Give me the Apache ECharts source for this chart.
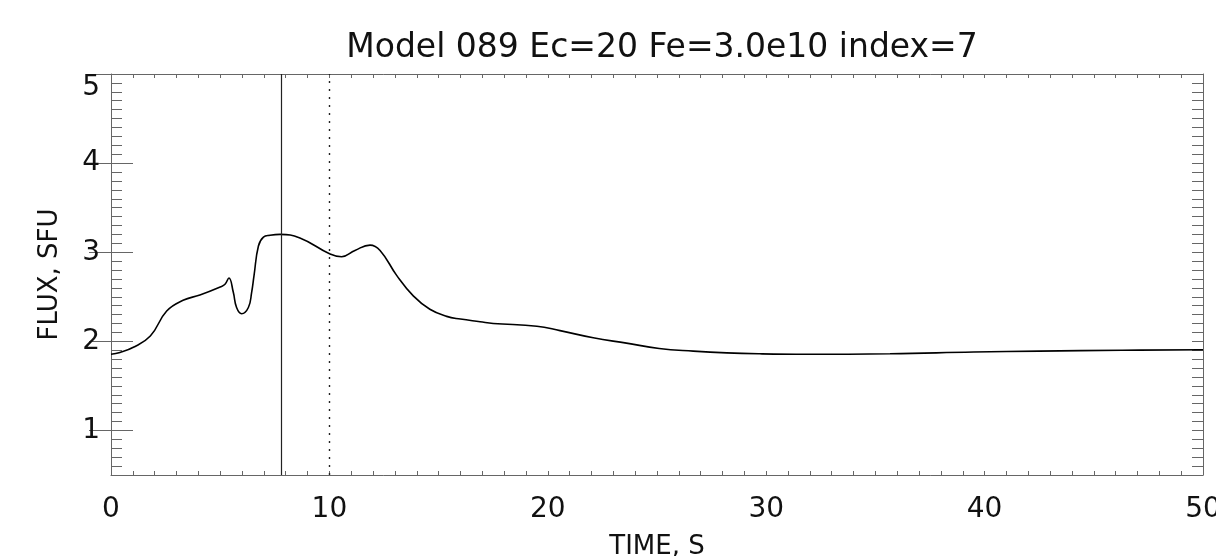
<!DOCTYPE html>
<html>
<head>
<meta charset="utf-8">
<script src="https://cdn.jsdelivr.net/npm/echarts@6/dist/echarts.min.js"></script>
<style>html,body{margin:0;padding:0;background:#fff}#chart{width:1216px;height:556px}</style>
</head>
<body>
<div id="chart"></div>
<script>
const titleText = 'Model 089 Ec=20 Fe=3.0e10 index=7';
const xName = 'TIME, S';
const yName = 'FLUX, SFU';

// light curve
const timeS = [0, 0.41, 1.0, 1.8, 2.55, 3.3, 4.07, 5.0, 5.22, 5.4, 5.6, 5.75, 5.98, 6.29, 6.44, 6.55, 6.75, 6.98, 7.28, 7.74,
  8.65, 10.03, 10.56, 11.17, 11.86, 12.32, 13.08, 13.84, 14.6, 15.37, 16.0, 16.9, 17.5, 19.5, 20.56, 22.08, 23.6,
  25.1, 26.66, 28.19, 29.7, 31.85, 35.67, 39.5, 42.5, 46.3, 50];
const fluxSfu = [1.855, 1.875, 1.93, 2.06, 2.34, 2.46, 2.52, 2.61, 2.64, 2.71, 2.55, 2.38, 2.31, 2.38, 2.55, 2.74, 3.07, 3.17, 3.19, 3.20,
  3.16, 2.98, 2.95, 3.02, 3.08, 3.02, 2.74, 2.51, 2.36, 2.28, 2.25, 2.22, 2.20, 2.17, 2.12, 2.04, 1.98,
  1.92, 1.89, 1.87, 1.86, 1.855, 1.86, 1.88, 1.89, 1.90, 1.905];

const solidMarkerTime = 7.78;
const dottedMarkerTime = 10;
const yMajorTicks = [1, 2, 3, 4, 5];

const font = 'DejaVu Sans';
const axisGrey = '#666';
const textColor = '#111';

let chartDom = document.getElementById('chart');
let myChart = echarts.init(chartDom);

function xAxisDef(pos, withLabels) {
    return {
        type: 'value', min: 0, max: 50, interval: 10, position: pos,
        axisLine: { show: true, onZero: false, lineStyle: { color: axisGrey, width: 1 } },
        axisTick: { show: true, inside: true, length: 4, lineStyle: { color: axisGrey } },
        minorTick: { show: true, splitNumber: 10, length: 4, lineStyle: { color: axisGrey } },
        splitLine: { show: false },
        axisLabel: { show: withLabels, color: textColor, fontSize: 28, fontFamily: font, margin: 21 },
        name: withLabels ? xName : '',
        nameLocation: 'middle',
        nameGap: 59,
        nameTextStyle: { color: textColor, fontSize: 26, fontFamily: font }
    };
}

function yMinorDef(pos, withName) {
    return {
        type: 'value', min: 0.5, max: 5, interval: 0.1, position: pos,
        axisLine: { show: true, onZero: false, lineStyle: { color: axisGrey, width: 1 } },
        axisTick: { show: true, inside: true, length: 11, lineStyle: { color: axisGrey } },
        splitLine: { show: false },
        axisLabel: { show: false },
        name: withName ? yName : '',
        nameLocation: 'middle',
        nameGap: 48,
        nameTextStyle: { color: textColor, fontSize: 26, fontFamily: font }
    };
}

function yMajorDef(pos, withLabels) {
    return {
        type: 'value', min: 0.5, max: 5, interval: 0.5, position: pos,
        axisLine: { show: false },
        axisTick: { show: true, inside: true, length: 22, customValues: yMajorTicks, lineStyle: { color: axisGrey } },
        splitLine: { show: false },
        axisLabel: {
            show: withLabels, customValues: yMajorTicks, color: textColor, fontSize: 28, fontFamily: font, margin: 11,
            verticalAlignMaxLabel: 'top'
        }
    };
}

const option = {
    animation: false,
    backgroundColor: '#fff',
    title: {
        text: titleText,
        left: 657, top: 27, textAlign: 'center',
        textStyle: { color: textColor, fontSize: 33, fontWeight: 'normal', fontFamily: font }
    },
    grid: { left: 111, right: 13, top: 74, bottom: 81, outerBoundsMode: 'none', containLabel: false },
    xAxis: [xAxisDef('bottom', true), xAxisDef('top', false)],
    yAxis: [yMinorDef('left', true), yMajorDef('left', true), yMinorDef('right', false), yMajorDef('right', false)],
    series: [{
        type: 'line',
        xAxisIndex: 0,
        yAxisIndex: 0,
        data: timeS.map((t, i) => [t, fluxSfu[i]]),
        showSymbol: false,
        smooth: 0.45,
        lineStyle: { color: '#000', width: 1.6 },
        markLine: {
            silent: true,
            symbol: ['none', 'none'],
            label: { show: false },
            data: [
                { xAxis: solidMarkerTime, lineStyle: { color: '#222', width: 1.2, type: 'solid' } },
                { xAxis: dottedMarkerTime, lineStyle: { color: '#222', width: 1.4, type: [2, 6] } }
            ]
        }
    }]
};

myChart.setOption(option);
</script>
</body>
</html>
